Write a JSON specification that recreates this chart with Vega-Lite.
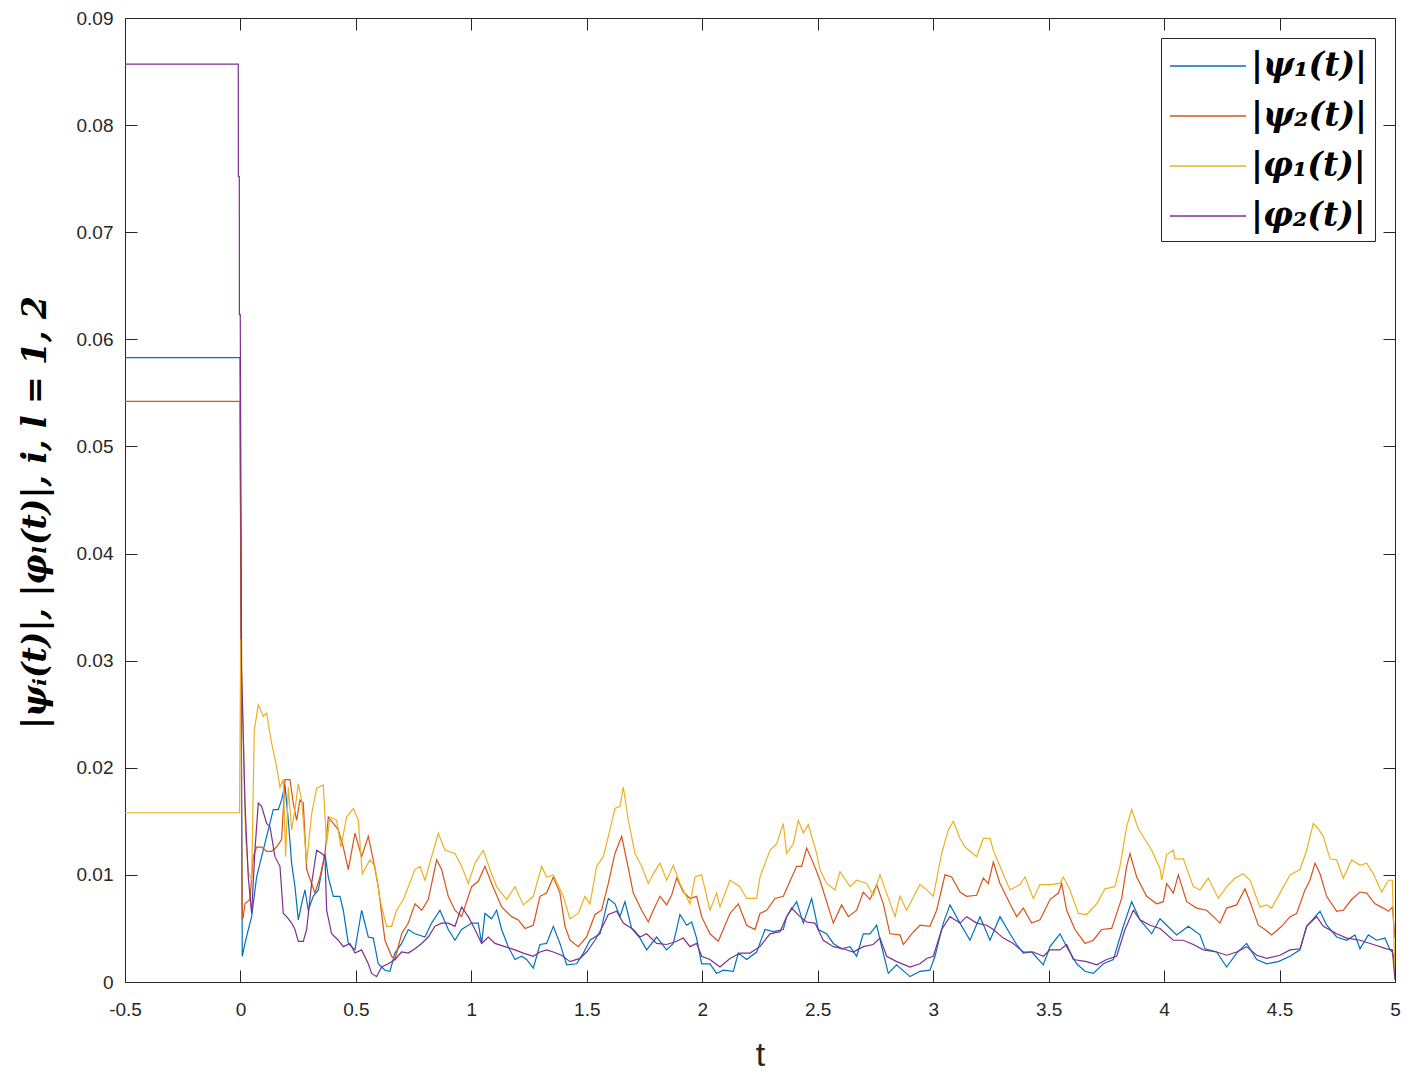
{
"$schema":"https://vega.github.io/schema/vega-lite/v6.json",
"width":1270,"height":964,
"autosize":{"type":"none"},
"padding":{"left":125,"top":18,"right":22,"bottom":108},
"background":"white",
"config":{"view":{"stroke":"#262626","strokeWidth":1},"font":"Liberation Sans"},
"datasets":{"d":[
{"s":"a","t":-0.5,"v":0.0583},{"s":"a","t":-0.002,"v":0.0583},{"s":"a","t":0.0079,"v":0.0024},{"s":"a","t":0.0195,"v":0.0036},{"s":"a","t":0.0339,"v":0.0049},{"s":"a","t":0.0484,"v":0.0061},{"s":"a","t":0.07,"v":0.0098},{"s":"a","t":0.0917,"v":0.0117},{"s":"a","t":0.1205,"v":0.0142},{"s":"a","t":0.1422,"v":0.0161},{"s":"a","t":0.1639,"v":0.0161},{"s":"a","t":0.1783,"v":0.017},{"s":"a","t":0.1927,"v":0.0184},{"s":"a","t":0.2072,"v":0.0151},{"s":"a","t":0.2216,"v":0.0111},{"s":"a","t":0.236,"v":0.0089},{"s":"a","t":0.2505,"v":0.0058},{"s":"a","t":0.2649,"v":0.0073},{"s":"a","t":0.2793,"v":0.0086},{"s":"a","t":0.2938,"v":0.0067},{"s":"a","t":0.3154,"v":0.008},{"s":"a","t":0.3371,"v":0.0086},{"s":"a","t":0.366,"v":0.012},{"s":"a","t":0.3804,"v":0.0098},{"s":"a","t":0.4021,"v":0.008},{"s":"a","t":0.4309,"v":0.008},{"s":"a","t":0.4454,"v":0.0067},{"s":"a","t":0.467,"v":0.0036},{"s":"a","t":0.4959,"v":0.003},{"s":"a","t":0.5248,"v":0.0067},{"s":"a","t":0.5536,"v":0.0042},{"s":"a","t":0.5753,"v":0.0041},{"s":"a","t":0.5969,"v":0.0017},{"s":"a","t":0.6258,"v":0.0011},{"s":"a","t":0.6474,"v":0.001},{"s":"a","t":0.6691,"v":0.0027},{"s":"a","t":0.698,"v":0.0036},{"s":"a","t":0.7269,"v":0.0049},{"s":"a","t":0.7557,"v":0.0045},{"s":"a","t":0.799,"v":0.0042},{"s":"a","t":0.8279,"v":0.0055},{"s":"a","t":0.864,"v":0.0067},{"s":"a","t":0.9001,"v":0.0049},{"s":"a","t":0.929,"v":0.0039},{"s":"a","t":0.9578,"v":0.0049},{"s":"a","t":1.0011,"v":0.0055},{"s":"a","t":1.03,"v":0.0055},{"s":"a","t":1.0445,"v":0.0036},{"s":"a","t":1.0589,"v":0.0064},{"s":"a","t":1.0878,"v":0.0059},{"s":"a","t":1.1094,"v":0.0067},{"s":"a","t":1.1311,"v":0.0049},{"s":"a","t":1.1599,"v":0.0033},{"s":"a","t":1.1888,"v":0.0021},{"s":"a","t":1.2177,"v":0.0024},
{"s":"a","t":1.2394,"v":0.0021},{"s":"a","t":1.2682,"v":0.0013},{"s":"a","t":1.2971,"v":0.0035},{"s":"a","t":1.326,"v":0.0036},{"s":"a","t":1.3549,"v":0.0052},{"s":"a","t":1.3837,"v":0.0036},{"s":"a","t":1.4126,"v":0.0016},{"s":"a","t":1.4559,"v":0.0017},{"s":"a","t":1.4848,"v":0.0027},{"s":"a","t":1.5137,"v":0.0039},{"s":"a","t":1.557,"v":0.0045},{"s":"a","t":1.5931,"v":0.0078},{"s":"a","t":1.6219,"v":0.0073},{"s":"a","t":1.6436,"v":0.0061},{"s":"a","t":1.6652,"v":0.0075},{"s":"a","t":1.6941,"v":0.005},{"s":"a","t":1.7302,"v":0.0041},{"s":"a","t":1.7591,"v":0.003},{"s":"a","t":1.8024,"v":0.0042},{"s":"a","t":1.8457,"v":0.003},{"s":"a","t":1.8746,"v":0.0036},{"s":"a","t":1.9034,"v":0.0063},{"s":"a","t":1.9323,"v":0.0053},{"s":"a","t":1.9539,"v":0.0056},{"s":"a","t":1.9756,"v":0.0041},{"s":"a","t":1.9973,"v":0.0017},{"s":"a","t":2.0334,"v":0.0017},{"s":"a","t":2.0622,"v":0.0008},{"s":"a","t":2.0911,"v":0.0011},{"s":"a","t":2.1344,"v":0.001},{"s":"a","t":2.1561,"v":0.0027},{"s":"a","t":2.1921,"v":0.0021},{"s":"a","t":2.2354,"v":0.0028},{"s":"a","t":2.2715,"v":0.0049},{"s":"a","t":2.3076,"v":0.0047},{"s":"a","t":2.3509,"v":0.0049},{"s":"a","t":2.3654,"v":0.0061},{"s":"a","t":2.4087,"v":0.0075},{"s":"a","t":2.4376,"v":0.0055},{"s":"a","t":2.4737,"v":0.0078},{"s":"a","t":2.5025,"v":0.0049},{"s":"a","t":2.5386,"v":0.0045},{"s":"a","t":2.5675,"v":0.0036},{"s":"a","t":2.6036,"v":0.0031},{"s":"a","t":2.6397,"v":0.0033},{"s":"a","t":2.6685,"v":0.0024},{"s":"a","t":2.6974,"v":0.0045},{"s":"a","t":2.7263,"v":0.0045},{"s":"a","t":2.7552,"v":0.0053},{"s":"a","t":2.7768,"v":0.0033},{"s":"a","t":2.8057,"v":0.0008},{"s":"a","t":2.8418,"v":0.0016},{"s":"a","t":2.8995,"v":0.0005},{"s":"a","t":2.9428,"v":0.001},{"s":"a","t":2.9861,"v":0.0011},{"s":"a","t":3.0078,"v":0.0024},{"s":"a","t":3.0439,"v":0.0055},{"s":"a","t":3.0728,"v":0.0072},
{"s":"a","t":3.1161,"v":0.0055},{"s":"a","t":3.1594,"v":0.0039},{"s":"a","t":3.2027,"v":0.0061},{"s":"a","t":3.246,"v":0.0039},{"s":"a","t":3.2893,"v":0.0061},{"s":"a","t":3.3326,"v":0.0045},{"s":"a","t":3.3615,"v":0.0035},{"s":"a","t":3.3904,"v":0.0027},{"s":"a","t":3.4265,"v":0.0028},{"s":"a","t":3.477,"v":0.0016},{"s":"a","t":3.5059,"v":0.0033},{"s":"a","t":3.5492,"v":0.0045},{"s":"a","t":3.5781,"v":0.0033},{"s":"a","t":3.6214,"v":0.0017},{"s":"a","t":3.6575,"v":0.001},{"s":"a","t":3.6935,"v":0.0008},{"s":"a","t":3.7368,"v":0.0017},{"s":"a","t":3.7802,"v":0.0021},{"s":"a","t":3.8235,"v":0.0052},{"s":"a","t":3.8596,"v":0.0075},{"s":"a","t":3.8956,"v":0.0058},{"s":"a","t":3.9462,"v":0.0045},{"s":"a","t":3.9823,"v":0.0059},{"s":"a","t":4.0111,"v":0.0053},{"s":"a","t":4.0544,"v":0.0044},{"s":"a","t":4.105,"v":0.0052},{"s":"a","t":4.1555,"v":0.0044},{"s":"a","t":4.1772,"v":0.0031},{"s":"a","t":4.2277,"v":0.0028},{"s":"a","t":4.271,"v":0.0014},{"s":"a","t":4.3143,"v":0.0027},{"s":"a","t":4.3576,"v":0.0036},{"s":"a","t":4.4009,"v":0.0021},{"s":"a","t":4.4442,"v":0.0017},{"s":"a","t":4.4947,"v":0.0019},{"s":"a","t":4.5453,"v":0.0024},{"s":"a","t":4.5886,"v":0.003},{"s":"a","t":4.6174,"v":0.0052},{"s":"a","t":4.6752,"v":0.0066},{"s":"a","t":4.7041,"v":0.0053},{"s":"a","t":4.7474,"v":0.0042},{"s":"a","t":4.7907,"v":0.0039},{"s":"a","t":4.8267,"v":0.0044},{"s":"a","t":4.8484,"v":0.0031},{"s":"a","t":4.8845,"v":0.0044},{"s":"a","t":4.9206,"v":0.0039},{"s":"a","t":4.9567,"v":0.0041},{"s":"a","t":4.9783,"v":0.003},{"s":"a","t":4.9884,"v":0.0028},{"s":"a","t":5,"v":0.0019},

{"s":"b","t":-0.5,"v":0.0542},{"s":"b","t":-0.0022,"v":0.0542},{"s":"b","t":0.0005,"v":0.042},{"s":"b","t":0.005,"v":0.015},{"s":"b","t":0.0079,"v":0.0058},{"s":"b","t":0.0123,"v":0.0061},{"s":"b","t":0.0195,"v":0.0073},{"s":"b","t":0.0412,"v":0.0077},{"s":"b","t":0.0556,"v":0.0117},{"s":"b","t":0.07,"v":0.0126},{"s":"b","t":0.0917,"v":0.0126},{"s":"b","t":0.1133,"v":0.0122},{"s":"b","t":0.135,"v":0.0122},{"s":"b","t":0.1566,"v":0.0126},{"s":"b","t":0.1783,"v":0.0133},{"s":"b","t":0.1927,"v":0.0189},{"s":"b","t":0.2144,"v":0.0189},{"s":"b","t":0.2288,"v":0.0167},{"s":"b","t":0.2433,"v":0.0151},{"s":"b","t":0.2577,"v":0.017},{"s":"b","t":0.2721,"v":0.0167},{"s":"b","t":0.2866,"v":0.0105},{"s":"b","t":0.3082,"v":0.0092},{"s":"b","t":0.3227,"v":0.0083},{"s":"b","t":0.3443,"v":0.0098},{"s":"b","t":0.366,"v":0.012},{"s":"b","t":0.3804,"v":0.0154},{"s":"b","t":0.4021,"v":0.0148},{"s":"b","t":0.4237,"v":0.0142},{"s":"b","t":0.4454,"v":0.0126},{"s":"b","t":0.467,"v":0.0105},{"s":"b","t":0.4959,"v":0.0139},{"s":"b","t":0.5248,"v":0.0117},{"s":"b","t":0.5536,"v":0.0136},{"s":"b","t":0.5753,"v":0.0114},{"s":"b","t":0.5969,"v":0.0089},{"s":"b","t":0.6258,"v":0.0039},{"s":"b","t":0.6547,"v":0.0024},{"s":"b","t":0.6691,"v":0.0021},{"s":"b","t":0.698,"v":0.0045},{"s":"b","t":0.7269,"v":0.0055},{"s":"b","t":0.7557,"v":0.0073},{"s":"b","t":0.7846,"v":0.0067},{"s":"b","t":0.8135,"v":0.0077},{"s":"b","t":0.8496,"v":0.0114},{"s":"b","t":0.8712,"v":0.0105},{"s":"b","t":0.9001,"v":0.008},{"s":"b","t":0.929,"v":0.0067},{"s":"b","t":0.9578,"v":0.0061},{"s":"b","t":1.0011,"v":0.0089},{"s":"b","t":1.03,"v":0.0094},{"s":"b","t":1.0589,"v":0.0108},{"s":"b","t":1.0878,"v":0.0092},{"s":"b","t":1.1311,"v":0.007},{"s":"b","t":1.1744,"v":0.0061},{"s":"b","t":1.2032,"v":0.0058},
{"s":"b","t":1.2322,"v":0.005},{"s":"b","t":1.2682,"v":0.0053},{"s":"b","t":1.2971,"v":0.008},{"s":"b","t":1.326,"v":0.0083},{"s":"b","t":1.3549,"v":0.0098},{"s":"b","t":1.3837,"v":0.0083},{"s":"b","t":1.4054,"v":0.0052},{"s":"b","t":1.427,"v":0.0039},{"s":"b","t":1.4631,"v":0.0033},{"s":"b","t":1.4992,"v":0.0042},{"s":"b","t":1.5353,"v":0.0063},{"s":"b","t":1.5642,"v":0.0067},{"s":"b","t":1.5931,"v":0.0092},{"s":"b","t":1.6219,"v":0.012},{"s":"b","t":1.6508,"v":0.0136},{"s":"b","t":1.6725,"v":0.0114},{"s":"b","t":1.7013,"v":0.0083},{"s":"b","t":1.7374,"v":0.0067},{"s":"b","t":1.7663,"v":0.0056},{"s":"b","t":1.7879,"v":0.0067},{"s":"b","t":1.8168,"v":0.008},{"s":"b","t":1.8457,"v":0.0072},{"s":"b","t":1.8673,"v":0.0081},{"s":"b","t":1.889,"v":0.0097},{"s":"b","t":1.9179,"v":0.0084},{"s":"b","t":1.9467,"v":0.0078},{"s":"b","t":1.9756,"v":0.008},{"s":"b","t":1.9973,"v":0.0061},{"s":"b","t":2.0334,"v":0.0045},{"s":"b","t":2.0694,"v":0.0038},{"s":"b","t":2.0911,"v":0.0049},{"s":"b","t":2.12,"v":0.0064},{"s":"b","t":2.1561,"v":0.0073},{"s":"b","t":2.1921,"v":0.0053},{"s":"b","t":2.2282,"v":0.0049},{"s":"b","t":2.2499,"v":0.0064},{"s":"b","t":2.2787,"v":0.0067},{"s":"b","t":2.3149,"v":0.0078},{"s":"b","t":2.3509,"v":0.008},{"s":"b","t":2.3798,"v":0.0094},{"s":"b","t":2.4087,"v":0.0108},{"s":"b","t":2.4303,"v":0.0108},{"s":"b","t":2.452,"v":0.0125},{"s":"b","t":2.4809,"v":0.0111},{"s":"b","t":2.5097,"v":0.0095},{"s":"b","t":2.5386,"v":0.0075},{"s":"b","t":2.5675,"v":0.0055},{"s":"b","t":2.6036,"v":0.0072},{"s":"b","t":2.6325,"v":0.0061},{"s":"b","t":2.6685,"v":0.0067},{"s":"b","t":2.6974,"v":0.0084},{"s":"b","t":2.7263,"v":0.0077},{"s":"b","t":2.7552,"v":0.0091},{"s":"b","t":2.784,"v":0.0073},{"s":"b","t":2.8129,"v":0.0045},{"s":"b","t":2.8562,"v":0.0044},{"s":"b","t":2.8707,"v":0.0035},{"s":"b","t":2.9067,"v":0.0045},{"s":"b","t":2.9428,"v":0.0053},{"s":"b","t":2.9861,"v":0.0052},{"s":"b","t":3.015,"v":0.0067},{"s":"b","t":3.0511,"v":0.01},{"s":"b","t":3.08,"v":0.0098},
{"s":"b","t":3.1161,"v":0.0084},{"s":"b","t":3.145,"v":0.008},{"s":"b","t":3.1883,"v":0.0081},{"s":"b","t":3.2171,"v":0.0097},{"s":"b","t":3.2388,"v":0.0092},{"s":"b","t":3.2605,"v":0.0112},{"s":"b","t":3.2893,"v":0.0092},{"s":"b","t":3.3326,"v":0.0073},{"s":"b","t":3.3615,"v":0.0061},{"s":"b","t":3.3904,"v":0.0069},{"s":"b","t":3.4265,"v":0.0055},{"s":"b","t":3.4626,"v":0.0058},{"s":"b","t":3.5059,"v":0.0077},{"s":"b","t":3.542,"v":0.0083},{"s":"b","t":3.5564,"v":0.0092},{"s":"b","t":3.5781,"v":0.0067},{"s":"b","t":3.6141,"v":0.0049},{"s":"b","t":3.6575,"v":0.0036},{"s":"b","t":3.6935,"v":0.0039},{"s":"b","t":3.7296,"v":0.0049},{"s":"b","t":3.773,"v":0.005},{"s":"b","t":3.8163,"v":0.0078},{"s":"b","t":3.8379,"v":0.0108},{"s":"b","t":3.8523,"v":0.012},{"s":"b","t":3.8812,"v":0.0098},{"s":"b","t":3.9245,"v":0.008},{"s":"b","t":3.9678,"v":0.0073},{"s":"b","t":3.9967,"v":0.0075},{"s":"b","t":4.0111,"v":0.0092},{"s":"b","t":4.04,"v":0.0083},{"s":"b","t":4.0617,"v":0.01},{"s":"b","t":4.0977,"v":0.0075},{"s":"b","t":4.1411,"v":0.0069},{"s":"b","t":4.1844,"v":0.0067},{"s":"b","t":4.2133,"v":0.0061},{"s":"b","t":4.2421,"v":0.0055},{"s":"b","t":4.271,"v":0.0069},{"s":"b","t":4.3143,"v":0.0072},{"s":"b","t":4.3504,"v":0.0087},{"s":"b","t":4.3721,"v":0.0075},{"s":"b","t":4.4081,"v":0.0053},{"s":"b","t":4.437,"v":0.0049},{"s":"b","t":4.4659,"v":0.0044},{"s":"b","t":4.5092,"v":0.0052},{"s":"b","t":4.5453,"v":0.0061},{"s":"b","t":4.5741,"v":0.0064},{"s":"b","t":4.6102,"v":0.0086},{"s":"b","t":4.6319,"v":0.0095},{"s":"b","t":4.6535,"v":0.0111},{"s":"b","t":4.6752,"v":0.0101},{"s":"b","t":4.7041,"v":0.008},{"s":"b","t":4.7474,"v":0.0066},{"s":"b","t":4.7762,"v":0.0067},{"s":"b","t":4.8123,"v":0.0077},{"s":"b","t":4.8484,"v":0.0084},{"s":"b","t":4.8773,"v":0.0083},{"s":"b","t":4.9133,"v":0.0073},{"s":"b","t":4.9494,"v":0.0069},{"s":"b","t":4.9711,"v":0.0066},{"s":"b","t":4.9884,"v":0.007},{"s":"b","t":5,"v":0.0041},

{"s":"c","t":-0.5,"v":0.0158},{"s":"c","t":-0.004,"v":0.0158},{"s":"c","t":0.001,"v":0.032},{"s":"c","t":0.005,"v":0.0291},{"s":"c","t":0.0123,"v":0.0229},{"s":"c","t":0.0224,"v":0.0136},{"s":"c","t":0.0339,"v":0.0103},{"s":"c","t":0.0484,"v":0.0095},{"s":"c","t":0.0599,"v":0.0235},{"s":"c","t":0.0772,"v":0.0259},{"s":"c","t":0.0989,"v":0.0248},{"s":"c","t":0.1133,"v":0.0251},{"s":"c","t":0.135,"v":0.0223},{"s":"c","t":0.1566,"v":0.0201},{"s":"c","t":0.1711,"v":0.0182},{"s":"c","t":0.1855,"v":0.0189},{"s":"c","t":0.1956,"v":0.0117},{"s":"c","t":0.2072,"v":0.0182},{"s":"c","t":0.2216,"v":0.0142},{"s":"c","t":0.236,"v":0.0161},{"s":"c","t":0.2505,"v":0.0185},{"s":"c","t":0.2649,"v":0.017},{"s":"c","t":0.2866,"v":0.0111},{"s":"c","t":0.3082,"v":0.0157},{"s":"c","t":0.3299,"v":0.0181},{"s":"c","t":0.3587,"v":0.0184},{"s":"c","t":0.3732,"v":0.0129},{"s":"c","t":0.3876,"v":0.0154},{"s":"c","t":0.4165,"v":0.0151},{"s":"c","t":0.4352,"v":0.0126},{"s":"c","t":0.4598,"v":0.0154},{"s":"c","t":0.4887,"v":0.0162},{"s":"c","t":0.5103,"v":0.0151},{"s":"c","t":0.5276,"v":0.0101},{"s":"c","t":0.5608,"v":0.0114},{"s":"c","t":0.5825,"v":0.0108},{"s":"c","t":0.6041,"v":0.0077},{"s":"c","t":0.633,"v":0.0052},{"s":"c","t":0.6547,"v":0.0052},{"s":"c","t":0.6763,"v":0.0067},{"s":"c","t":0.7052,"v":0.0077},{"s":"c","t":0.7269,"v":0.0089},{"s":"c","t":0.7557,"v":0.0105},{"s":"c","t":0.7774,"v":0.0108},{"s":"c","t":0.799,"v":0.0095},{"s":"c","t":0.8279,"v":0.0117},{"s":"c","t":0.8568,"v":0.0139},{"s":"c","t":0.8857,"v":0.0123},{"s":"c","t":0.929,"v":0.012},{"s":"c","t":0.9578,"v":0.0108},{"s":"c","t":0.9867,"v":0.0092},{"s":"c","t":1.0156,"v":0.0111},{"s":"c","t":1.0517,"v":0.0123},{"s":"c","t":1.0806,"v":0.0105},{"s":"c","t":1.1094,"v":0.0089},{"s":"c","t":1.1527,"v":0.0077},{"s":"c","t":1.1888,"v":0.0089},{"s":"c","t":1.2249,"v":0.0072},
{"s":"c","t":1.2682,"v":0.008},{"s":"c","t":1.3043,"v":0.0108},{"s":"c","t":1.326,"v":0.0098},{"s":"c","t":1.3549,"v":0.01},{"s":"c","t":1.3982,"v":0.008},{"s":"c","t":1.427,"v":0.0059},{"s":"c","t":1.4631,"v":0.0064},{"s":"c","t":1.492,"v":0.008},{"s":"c","t":1.5137,"v":0.0073},{"s":"c","t":1.5425,"v":0.0108},{"s":"c","t":1.5714,"v":0.0117},{"s":"c","t":1.5931,"v":0.0136},{"s":"c","t":1.6219,"v":0.0162},{"s":"c","t":1.6436,"v":0.0164},{"s":"c","t":1.658,"v":0.0182},{"s":"c","t":1.6797,"v":0.0151},{"s":"c","t":1.7085,"v":0.012},{"s":"c","t":1.7374,"v":0.0108},{"s":"c","t":1.7663,"v":0.0092},{"s":"c","t":1.7879,"v":0.0101},{"s":"c","t":1.8168,"v":0.0111},{"s":"c","t":1.8457,"v":0.0095},{"s":"c","t":1.8746,"v":0.0109},{"s":"c","t":1.9034,"v":0.0092},{"s":"c","t":1.9467,"v":0.0073},{"s":"c","t":1.9684,"v":0.0098},{"s":"c","t":1.9973,"v":0.01},{"s":"c","t":2.0334,"v":0.0067},{"s":"c","t":2.0622,"v":0.0083},{"s":"c","t":2.0767,"v":0.007},{"s":"c","t":2.12,"v":0.0095},{"s":"c","t":2.1633,"v":0.0089},{"s":"c","t":2.1921,"v":0.0078},{"s":"c","t":2.2354,"v":0.0078},{"s":"c","t":2.2499,"v":0.0098},{"s":"c","t":2.2932,"v":0.0123},{"s":"c","t":2.3221,"v":0.0129},{"s":"c","t":2.3509,"v":0.0148},{"s":"c","t":2.3654,"v":0.012},{"s":"c","t":2.3943,"v":0.0129},{"s":"c","t":2.4159,"v":0.0151},{"s":"c","t":2.4376,"v":0.0139},{"s":"c","t":2.4592,"v":0.0147},{"s":"c","t":2.4953,"v":0.012},{"s":"c","t":2.5097,"v":0.0105},{"s":"c","t":2.5386,"v":0.0092},{"s":"c","t":2.5747,"v":0.0086},{"s":"c","t":2.5963,"v":0.0103},{"s":"c","t":2.6397,"v":0.0089},{"s":"c","t":2.6685,"v":0.0095},{"s":"c","t":2.7118,"v":0.0092},{"s":"c","t":2.7407,"v":0.0081},{"s":"c","t":2.7696,"v":0.01},{"s":"c","t":2.7985,"v":0.0083},{"s":"c","t":2.8346,"v":0.0061},{"s":"c","t":2.8562,"v":0.008},{"s":"c","t":2.8851,"v":0.0067},{"s":"c","t":2.9428,"v":0.0091},{"s":"c","t":2.9717,"v":0.0086},{"s":"c","t":3.0006,"v":0.008},{"s":"c","t":3.0367,"v":0.012},{"s":"c","t":3.0655,"v":0.0142},{"s":"c","t":3.0872,"v":0.015},
{"s":"c","t":3.1161,"v":0.0134},{"s":"c","t":3.1378,"v":0.0126},{"s":"c","t":3.1883,"v":0.0117},{"s":"c","t":3.2171,"v":0.0134},{"s":"c","t":3.246,"v":0.0134},{"s":"c","t":3.2605,"v":0.0123},{"s":"c","t":3.2893,"v":0.0108},{"s":"c","t":3.3326,"v":0.0086},{"s":"c","t":3.3759,"v":0.0091},{"s":"c","t":3.3976,"v":0.0098},{"s":"c","t":3.4337,"v":0.0078},{"s":"c","t":3.4626,"v":0.0091},{"s":"c","t":3.5059,"v":0.0091},{"s":"c","t":3.5492,"v":0.0092},{"s":"c","t":3.5636,"v":0.0098},{"s":"c","t":3.5925,"v":0.0086},{"s":"c","t":3.6286,"v":0.0064},{"s":"c","t":3.6647,"v":0.0063},{"s":"c","t":3.708,"v":0.0073},{"s":"c","t":3.7441,"v":0.0087},{"s":"c","t":3.7874,"v":0.0089},{"s":"c","t":3.809,"v":0.0108},{"s":"c","t":3.8379,"v":0.0145},{"s":"c","t":3.8596,"v":0.0161},{"s":"c","t":3.8884,"v":0.0143},{"s":"c","t":3.9173,"v":0.0133},{"s":"c","t":3.9462,"v":0.0123},{"s":"c","t":3.9823,"v":0.0106},{"s":"c","t":3.9895,"v":0.0095},{"s":"c","t":4.0111,"v":0.0119},{"s":"c","t":4.04,"v":0.0123},{"s":"c","t":4.0472,"v":0.0115},{"s":"c","t":4.0833,"v":0.0115},{"s":"c","t":4.1266,"v":0.0089},{"s":"c","t":4.1555,"v":0.0086},{"s":"c","t":4.1916,"v":0.0097},{"s":"c","t":4.2349,"v":0.0078},{"s":"c","t":4.271,"v":0.0089},{"s":"c","t":4.3071,"v":0.0097},{"s":"c","t":4.3432,"v":0.0101},{"s":"c","t":4.3721,"v":0.0095},{"s":"c","t":4.4153,"v":0.007},{"s":"c","t":4.4442,"v":0.0072},{"s":"c","t":4.4659,"v":0.0069},{"s":"c","t":4.502,"v":0.0083},{"s":"c","t":4.5453,"v":0.01},{"s":"c","t":4.5886,"v":0.0105},{"s":"c","t":4.6174,"v":0.0123},{"s":"c","t":4.6463,"v":0.0148},{"s":"c","t":4.668,"v":0.0143},{"s":"c","t":4.6896,"v":0.0136},{"s":"c","t":4.7185,"v":0.0115},{"s":"c","t":4.7474,"v":0.0114},{"s":"c","t":4.7762,"v":0.0097},{"s":"c","t":4.8123,"v":0.0114},{"s":"c","t":4.8484,"v":0.0109},{"s":"c","t":4.8773,"v":0.0111},{"s":"c","t":4.9061,"v":0.0101},{"s":"c","t":4.9422,"v":0.0084},{"s":"c","t":4.9711,"v":0.0095},{"s":"c","t":4.9884,"v":0.0095},{"s":"c","t":5,"v":0.0005},

{"s":"d","t":-0.5,"v":0.0857},{"s":"d","t":-0.0095,"v":0.0857},{"s":"d","t":-0.009,"v":0.0752},{"s":"d","t":-0.005,"v":0.0752},{"s":"d","t":-0.0045,"v":0.0623},{"s":"d","t":-0.0009,"v":0.0623},{"s":"d","t":0.005,"v":0.0291},{"s":"d","t":0.0195,"v":0.0167},{"s":"d","t":0.0339,"v":0.0098},{"s":"d","t":0.0484,"v":0.0064},{"s":"d","t":0.0628,"v":0.0123},{"s":"d","t":0.0772,"v":0.0167},{"s":"d","t":0.0917,"v":0.0164},{"s":"d","t":0.1133,"v":0.0148},{"s":"d","t":0.1278,"v":0.0145},{"s":"d","t":0.1494,"v":0.0117},{"s":"d","t":0.1711,"v":0.0108},{"s":"d","t":0.1855,"v":0.0064},{"s":"d","t":0.2,"v":0.0061},{"s":"d","t":0.2216,"v":0.0055},{"s":"d","t":0.236,"v":0.0049},{"s":"d","t":0.2505,"v":0.0038},{"s":"d","t":0.2721,"v":0.0038},{"s":"d","t":0.2866,"v":0.0049},{"s":"d","t":0.3082,"v":0.0092},{"s":"d","t":0.3299,"v":0.0123},{"s":"d","t":0.3515,"v":0.012},{"s":"d","t":0.366,"v":0.0117},{"s":"d","t":0.3732,"v":0.0067},{"s":"d","t":0.3948,"v":0.0045},{"s":"d","t":0.4237,"v":0.0039},{"s":"d","t":0.4454,"v":0.0033},{"s":"d","t":0.4742,"v":0.0036},{"s":"d","t":0.4959,"v":0.0027},{"s":"d","t":0.5248,"v":0.003},{"s":"d","t":0.5536,"v":0.0017},{"s":"d","t":0.568,"v":0.0008},{"s":"d","t":0.5897,"v":0.0005},{"s":"d","t":0.6114,"v":0.0014},{"s":"d","t":0.6402,"v":0.0017},{"s":"d","t":0.6691,"v":0.0021},{"s":"d","t":0.698,"v":0.0028},{"s":"d","t":0.7269,"v":0.0027},{"s":"d","t":0.7557,"v":0.0031},{"s":"d","t":0.7846,"v":0.0036},{"s":"d","t":0.8135,"v":0.0042},{"s":"d","t":0.8423,"v":0.0052},{"s":"d","t":0.8712,"v":0.0055},{"s":"d","t":0.9001,"v":0.0055},{"s":"d","t":0.929,"v":0.0052},{"s":"d","t":0.9578,"v":0.007},{"s":"d","t":0.9867,"v":0.0061},{"s":"d","t":1.0156,"v":0.0049},{"s":"d","t":1.0445,"v":0.0036},{"s":"d","t":1.0733,"v":0.0042},{"s":"d","t":1.1022,"v":0.0036},{"s":"d","t":1.1455,"v":0.0033},{"s":"d","t":1.1888,"v":0.003},{"s":"d","t":1.2249,"v":0.0027},
{"s":"d","t":1.2682,"v":0.0024},{"s":"d","t":1.2971,"v":0.0028},{"s":"d","t":1.326,"v":0.003},{"s":"d","t":1.3549,"v":0.0028},{"s":"d","t":1.391,"v":0.0025},{"s":"d","t":1.427,"v":0.0019},{"s":"d","t":1.4703,"v":0.0022},{"s":"d","t":1.4992,"v":0.0028},{"s":"d","t":1.5353,"v":0.0039},{"s":"d","t":1.5642,"v":0.005},{"s":"d","t":1.5931,"v":0.0063},{"s":"d","t":1.6291,"v":0.0066},{"s":"d","t":1.658,"v":0.0055},{"s":"d","t":1.7013,"v":0.0049},{"s":"d","t":1.7302,"v":0.0042},{"s":"d","t":1.7591,"v":0.0045},{"s":"d","t":1.8024,"v":0.0036},{"s":"d","t":1.8457,"v":0.0035},{"s":"d","t":1.889,"v":0.0038},{"s":"d","t":1.9179,"v":0.0041},{"s":"d","t":1.9467,"v":0.0033},{"s":"d","t":1.9756,"v":0.0036},{"s":"d","t":1.9973,"v":0.0024},{"s":"d","t":2.0334,"v":0.0021},{"s":"d","t":2.0767,"v":0.0014},{"s":"d","t":2.12,"v":0.0022},{"s":"d","t":2.1633,"v":0.0027},{"s":"d","t":2.2066,"v":0.0027},{"s":"d","t":2.2499,"v":0.0033},{"s":"d","t":2.2932,"v":0.0045},{"s":"d","t":2.3365,"v":0.0047},{"s":"d","t":2.3654,"v":0.0061},{"s":"d","t":2.387,"v":0.0069},{"s":"d","t":2.4231,"v":0.0061},{"s":"d","t":2.452,"v":0.0056},{"s":"d","t":2.4881,"v":0.0055},{"s":"d","t":2.5242,"v":0.0039},{"s":"d","t":2.5675,"v":0.0033},{"s":"d","t":2.6108,"v":0.0031},{"s":"d","t":2.6541,"v":0.0028},{"s":"d","t":2.6974,"v":0.0033},{"s":"d","t":2.7407,"v":0.0035},{"s":"d","t":2.7696,"v":0.0041},{"s":"d","t":2.7985,"v":0.0024},{"s":"d","t":2.8418,"v":0.0019},{"s":"d","t":2.8995,"v":0.0014},{"s":"d","t":2.9428,"v":0.0017},{"s":"d","t":2.9717,"v":0.0022},{"s":"d","t":3.0006,"v":0.0024},{"s":"d","t":3.0367,"v":0.0049},{"s":"d","t":3.0728,"v":0.0061},
{"s":"d","t":3.1161,"v":0.0055},{"s":"d","t":3.145,"v":0.0061},{"s":"d","t":3.1883,"v":0.0055},{"s":"d","t":3.2316,"v":0.0053},{"s":"d","t":3.2605,"v":0.0049},{"s":"d","t":3.3038,"v":0.0041},{"s":"d","t":3.3471,"v":0.0036},{"s":"d","t":3.3904,"v":0.0028},{"s":"d","t":3.4337,"v":0.0028},{"s":"d","t":3.477,"v":0.0024},{"s":"d","t":3.5059,"v":0.003},{"s":"d","t":3.5492,"v":0.003},{"s":"d","t":3.5781,"v":0.0035},{"s":"d","t":3.6069,"v":0.0021},{"s":"d","t":3.6647,"v":0.0019},{"s":"d","t":3.708,"v":0.0016},{"s":"d","t":3.7513,"v":0.0021},{"s":"d","t":3.7946,"v":0.0024},{"s":"d","t":3.8307,"v":0.0049},{"s":"d","t":3.8668,"v":0.0067},{"s":"d","t":3.8956,"v":0.0058},{"s":"d","t":3.9389,"v":0.0053},{"s":"d","t":3.9823,"v":0.005},{"s":"d","t":4.04,"v":0.0039},{"s":"d","t":4.0833,"v":0.0039},{"s":"d","t":4.1266,"v":0.0035},{"s":"d","t":4.17,"v":0.003},{"s":"d","t":4.2277,"v":0.0028},{"s":"d","t":4.271,"v":0.0025},{"s":"d","t":4.3143,"v":0.0028},{"s":"d","t":4.3576,"v":0.0033},{"s":"d","t":4.4009,"v":0.0025},{"s":"d","t":4.4442,"v":0.0022},{"s":"d","t":4.502,"v":0.0025},{"s":"d","t":4.5453,"v":0.003},{"s":"d","t":4.5886,"v":0.0031},{"s":"d","t":4.6174,"v":0.0052},{"s":"d","t":4.6608,"v":0.0061},{"s":"d","t":4.6896,"v":0.0052},{"s":"d","t":4.7474,"v":0.0045},{"s":"d","t":4.7907,"v":0.0041},{"s":"d","t":4.8484,"v":0.0039},{"s":"d","t":4.9061,"v":0.0035},{"s":"d","t":4.9639,"v":0.0031},{"s":"d","t":4.9884,"v":0.003},{"s":"d","t":5,"v":0.0002}
]},
"data":{"name":"d"},
"layer":[
{"mark":{"type":"line","strokeWidth":1.2,"clip":true},
 "encoding":{
  "x":{"field":"t","type":"quantitative","scale":{"domain":[-0.5,5],"nice":false,"zero":false},
   "axis":{"orient":"bottom","values":[-0.5,0,0.5,1,1.5,2,2.5,3,3.5,4,4.5,5],"labelExpr":"'' + datum.value","title":"t","titleFont":"Liberation Sans","titleFontSize":34,"titleFontWeight":"normal","titleColor":"#262626","titlePadding":19,"labelFont":"Liberation Sans","labelFontSize":19,"labelColor":"#262626","tickSize":-12,"tickColor":"#262626","tickWidth":1,"domain":false,"grid":false,"labelPadding":30,"labelFlush":false}},
  "y":{"field":"v","type":"quantitative","scale":{"domain":[0,0.09],"nice":false,"zero":false},
   "axis":{"orient":"left","values":[0,0.01,0.02,0.03,0.04,0.05,0.06,0.07,0.08,0.09],"labelExpr":"'' + datum.value","title":"|ψᵢ(t)|, |φₗ(t)|, i, l = 1, 2","titleFont":"DejaVu Serif","titleFontSize":33,"titleFontWeight":"bold","titleFontStyle":"italic","titleColor":"black","titlePadding":24,"titleY":494,"labelFont":"Liberation Sans","labelFontSize":19,"labelColor":"#262626","tickSize":-12,"tickColor":"#262626","domain":false,"grid":false,"labelPadding":24,"labelFlush":false}},
  "color":{"field":"s","type":"nominal","scale":{"domain":["a","b","c","d"],"range":["#0072BD","#D95319","#EDB120","#7E2F8E"]},
   "legend":{"orient":"top-right","offset":20,"title":null,"labelExpr":"datum.value == 'a' ? '|ψ₁(t)|' : datum.value == 'b' ? '|ψ₂(t)|' : datum.value == 'c' ? '|φ₁(t)|' : '|φ₂(t)|'","symbolType":"M-2,0H2","symbolSize":1444,"symbolStrokeWidth":1.5,"symbolOffset":19,"labelFont":"DejaVu Serif","labelFontSize":33,"labelFontStyle":"italic","labelFontWeight":"bold","labelColor":"black","labelOffset":23,"fillColor":"white","strokeColor":"#262626","padding":8,"rowPadding":13,"labelLimit":0}}
 }},
{"mark":{"type":"point","opacity":0},
 "encoding":{
  "x":{"field":"t","type":"quantitative","axis":{"orient":"top","values":[-0.5,0,0.5,1,1.5,2,2.5,3,3.5,4,4.5,5],"labels":false,"title":null,"tickSize":-12,"tickColor":"#262626","domain":false,"grid":false}},
  "y":{"field":"v","type":"quantitative","axis":{"orient":"right","values":[0,0.01,0.02,0.03,0.04,0.05,0.06,0.07,0.08,0.09],"labels":false,"title":null,"tickSize":-12,"tickColor":"#262626","domain":false,"grid":false}}
 }}
],
"resolve":{"axis":{"x":"independent","y":"independent"}}
}
